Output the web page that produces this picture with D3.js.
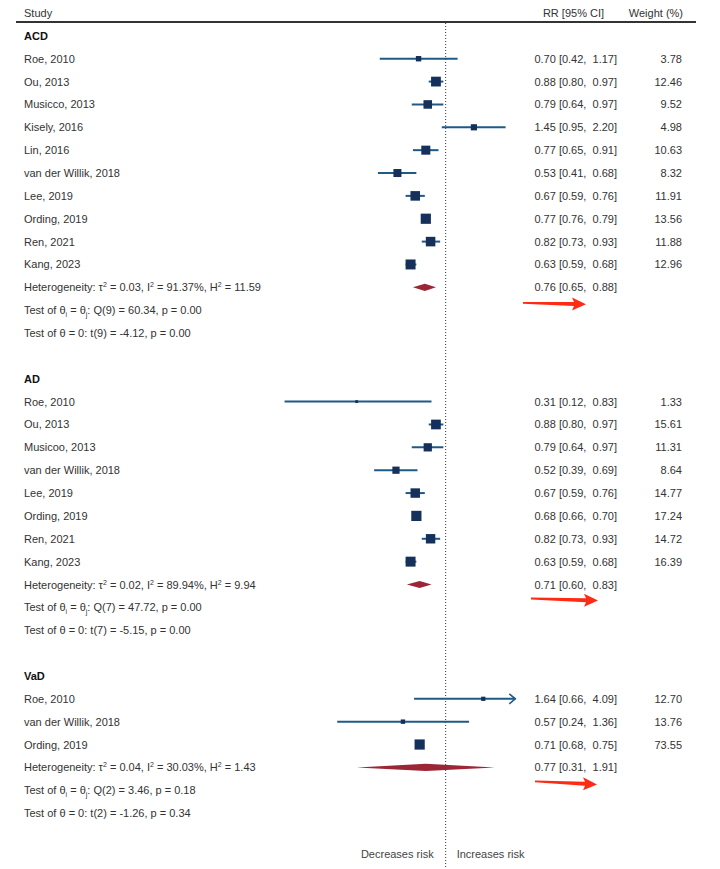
<!DOCTYPE html>
<html>
<head>
<meta charset="utf-8">
<script src="https://cdn.jsdelivr.net/npm/d3@7"></script>
<style>
  html, body { margin: 0; padding: 0; background: #fff; }
  svg { display: block; font-family: "Liberation Sans", Arial, Helvetica, sans-serif; }
</style>
</head>
<body>
<svg id="chart" width="720" height="869"></svg>
<script>
// ---------------- DATA ----------------
const groups = ["ACD", "AD", "VaD"];

const studyGroup = ["ACD","ACD","ACD","ACD","ACD","ACD","ACD","ACD","ACD","ACD",
                    "AD","AD","AD","AD","AD","AD","AD","AD",
                    "VaD","VaD","VaD"];
const studyName = ["Roe, 2010","Ou, 2013","Musicco, 2013","Kisely, 2016","Lin, 2016",
                   "van der Willik, 2018","Lee, 2019","Ording, 2019","Ren, 2021","Kang, 2023",
                   "Roe, 2010","Ou, 2013","Musicoo, 2013","van der Willik, 2018","Lee, 2019",
                   "Ording, 2019","Ren, 2021","Kang, 2023",
                   "Roe, 2010","van der Willik, 2018","Ording, 2019"];
const studyRR = [0.70,0.88,0.79,1.45,0.77,0.53,0.67,0.77,0.82,0.63,
                 0.31,0.88,0.79,0.52,0.67,0.68,0.82,0.63,
                 1.64,0.57,0.71];
const studyLo = [0.42,0.80,0.64,0.95,0.65,0.41,0.59,0.76,0.73,0.59,
                 0.12,0.80,0.64,0.39,0.59,0.66,0.73,0.59,
                 0.66,0.24,0.68];
const studyHi = [1.17,0.97,0.97,2.20,0.91,0.68,0.76,0.79,0.93,0.68,
                 0.83,0.97,0.97,0.69,0.76,0.70,0.93,0.68,
                 4.09,1.36,0.75];
const studyWeight = [3.78,12.46,9.52,4.98,10.63,8.32,11.91,13.56,11.88,12.96,
                     1.33,15.61,11.31,8.64,14.77,17.24,14.72,16.39,
                     12.70,13.76,73.55];

const pooledRR = [0.76, 0.71, 0.77];
const pooledLo = [0.65, 0.60, 0.31];
const pooledHi = [0.88, 0.83, 1.91];

const tau2 = ["0.03", "0.02", "0.04"];
const I2   = ["91.37", "89.94", "30.03"];
const H2   = ["11.59", "9.94", "1.43"];
const Qdf  = [9, 7, 2];
const Qval = ["60.34", "47.72", "3.46"];
const Qp   = ["0.00", "0.00", "0.18"];
const tdf  = [9, 7, 2];
const tval = ["-4.12", "-5.15", "-1.26"];
const tp   = ["0.00", "0.00", "0.34"];

const xDomain = [0.1, 2.5];
const nullValue = 1;
const sideLabels = ["Decreases risk", "Increases risk"];

// ---------------- LAYOUT ----------------
const svg = d3.select("#chart");
const W = 720, H = 869;

const x = d3.scaleLog().domain(xDomain).range([270.7, 515.3]);

// build row list
const rows = [];
rows.push({type: "header"});
groups.forEach((g, gi) => {
  rows.push({type: "group", g, gi});
  studyGroup.forEach((sg, i) => { if (sg === g) rows.push({type: "study", i, gi}); });
  rows.push({type: "het", gi});
  rows.push({type: "q", gi});
  rows.push({type: "t", gi});
  if (gi < groups.length - 1) rows.push({type: "blank"});
});
rows.forEach((r, k) => r.k = k);

const y = d3.scaleLinear().domain([0, 1]).range([13, 13 + 22.86]);

const colStudy = 24, colRR = 617, colW = 682;
const textColor = "#333";
const ciColor = "#1f5a86";
const boxColor = "#15305a";
const diamondColor = "#9c2536";
const arrowRed = "#ff2a14";

// per-group marker scale
const sizeScales = groups.map(g => {
  const ws = studyWeight.filter((w, i) => studyGroup[i] === g);
  return d3.scaleSqrt().domain([0, d3.max(ws)]).range([0, 10.2]);
});

const fmt = d3.format(".2f");

// header
svg.append("text").attr("x", colStudy).attr("y", y(0) + 4)
  .attr("font-size", 11).attr("fill", textColor).text("Study");
svg.append("text").attr("x", 573.5).attr("y", y(0) + 4).attr("text-anchor", "middle")
  .attr("font-size", 11).attr("fill", textColor).text("RR [95% CI]");
svg.append("text").attr("x", 683).attr("y", y(0) + 4).attr("text-anchor", "end")
  .attr("font-size", 11).attr("fill", textColor).text("Weight (%)");

svg.append("line").attr("x1", 16).attr("x2", 696).attr("y1", 22).attr("y2", 22)
  .attr("stroke", "#333").attr("stroke-width", 2);

// null line
svg.append("line").attr("x1", x(nullValue)).attr("x2", x(nullValue))
  .attr("y1", 23).attr("y2", H)
  .attr("stroke", "#333").attr("stroke-width", 1).attr("stroke-dasharray", "1,2");

const g = svg.append("g");

rows.forEach(r => {
  const yy = y(r.k);
  if (r.type === "group") {
    g.append("text").attr("x", colStudy).attr("y", yy + 4)
      .attr("font-size", 11).attr("font-weight", "bold").attr("fill", "#111").text(r.g);
  } else if (r.type === "study") {
    const i = r.i;
    g.append("text").attr("x", colStudy).attr("y", yy + 4)
      .attr("font-size", 11).attr("fill", textColor).text(studyName[i]);
    const clipped = studyHi[i] > xDomain[1];
    const x0 = x(Math.max(studyLo[i], xDomain[0]));
    const x1 = x(Math.min(studyHi[i], xDomain[1]));
    g.append("line").attr("x1", x0).attr("x2", x1).attr("y1", yy).attr("y2", yy)
      .attr("stroke", ciColor).attr("stroke-width", 2);
    if (clipped) {
      g.append("path")
        .attr("d", `M${x1 - 6},${yy - 5} L${x1},${yy} L${x1 - 6},${yy + 5}`)
        .attr("fill", "none").attr("stroke", ciColor).attr("stroke-width", 1.6);
    }
    const s = sizeScales[r.gi](studyWeight[i]);
    g.append("rect").attr("x", x(studyRR[i]) - s / 2).attr("y", yy - s / 2)
      .attr("width", s).attr("height", s).attr("fill", boxColor);
    g.append("text").attr("x", colRR).attr("y", yy + 4).attr("text-anchor", "end")
      .attr("xml:space", "preserve").style("white-space", "pre")
      .attr("font-size", 11).attr("fill", textColor)
      .text(`${fmt(studyRR[i])} [${fmt(studyLo[i])},  ${fmt(studyHi[i])}]`);
    g.append("text").attr("x", colW).attr("y", yy + 4).attr("text-anchor", "end")
      .attr("font-size", 11).attr("fill", textColor).text(fmt(studyWeight[i]));
  } else if (r.type === "het") {
    const gi = r.gi;
    const t = g.append("text").attr("x", colStudy).attr("y", yy + 4)
      .attr("font-size", 11).attr("fill", textColor);
    t.append("tspan").text("Heterogeneity: τ");
    t.append("tspan").attr("font-size", 7).attr("dy", -4).text("2");
    t.append("tspan").attr("dy", 4).text(` = ${tau2[gi]}, I`);
    t.append("tspan").attr("font-size", 7).attr("dy", -4).text("2");
    t.append("tspan").attr("dy", 4).text(` = ${I2[gi]}%, H`);
    t.append("tspan").attr("font-size", 7).attr("dy", -4).text("2");
    t.append("tspan").attr("dy", 4).text(` = ${H2[gi]}`);
    // diamond
    const xl = x(pooledLo[gi]), xr = x(pooledHi[gi]), xm = x(pooledRR[gi]);
    g.append("path")
      .attr("d", `M${xl},${yy} L${xm},${yy - 3.6} L${xr},${yy} L${xm},${yy + 3.6} Z`)
      .attr("fill", diamondColor);
    g.append("text").attr("x", colRR).attr("y", yy + 4).attr("text-anchor", "end")
      .attr("xml:space", "preserve").style("white-space", "pre")
      .attr("font-size", 11).attr("fill", textColor)
      .text(`${fmt(pooledRR[gi])} [${fmt(pooledLo[gi])},  ${fmt(pooledHi[gi])}]`);
  } else if (r.type === "q") {
    const gi = r.gi;
    const t = g.append("text").attr("x", colStudy).attr("y", yy + 4)
      .attr("font-size", 11).attr("fill", textColor);
    t.append("tspan").text("Test of θ");
    t.append("tspan").attr("font-size", 7).attr("dy", 2.5).text("i");
    t.append("tspan").attr("dy", -2.5).text(" = θ");
    t.append("tspan").attr("font-size", 7).attr("dy", 2.5).text("j");
    t.append("tspan").attr("dy", -2.5).text(`: Q(${Qdf[gi]}) = ${Qval[gi]}, p = ${Qp[gi]}`);
  } else if (r.type === "t") {
    const gi = r.gi;
    g.append("text").attr("x", colStudy).attr("y", yy + 4)
      .attr("font-size", 11).attr("fill", textColor)
      .text(`Test of θ = 0: t(${tdf[gi]}) = ${tval[gi]}, p = ${tp[gi]}`);
  }
});

// red annotation arrows under each pooled estimate
const arrowSpec = [
  {gi: 0, x0: 523, x1: 586, dy0: 15.5, dy1: 17},
  {gi: 1, x0: 531, x1: 598, dy0: 14, dy1: 16},
  {gi: 2, x0: 535, x1: 597, dy0: 14, dy1: 17}
];
arrowSpec.forEach(a => {
  const hr = rows.find(r => r.type === "het" && r.gi === a.gi);
  const yb = y(hr.k);
  const y0 = yb + a.dy0, y1 = yb + a.dy1;
  const hb = a.x1 - 12;
  const ym = y0 + (y1 - y0) * (hb - a.x0) / (a.x1 - a.x0);
  svg.append("path")
    .attr("d", `M${a.x0},${y0 - 0.9} L${hb},${ym - 2} L${hb - 2},${ym - 6.5} L${a.x1},${y1} ` +
               `L${hb - 2},${ym + 6.5} L${hb},${ym + 2} L${a.x0},${y0 + 0.9} Z`)
    .attr("fill", arrowRed);
});

// bottom labels
svg.append("text").attr("x", x(nullValue) - 12).attr("y", 858).attr("text-anchor", "end")
  .attr("font-size", 11).attr("fill", "#444").text(sideLabels[0]);
svg.append("text").attr("x", x(nullValue) + 11).attr("y", 858).attr("text-anchor", "start")
  .attr("font-size", 11).attr("fill", "#444").text(sideLabels[1]);
</script>
</body>
</html>
